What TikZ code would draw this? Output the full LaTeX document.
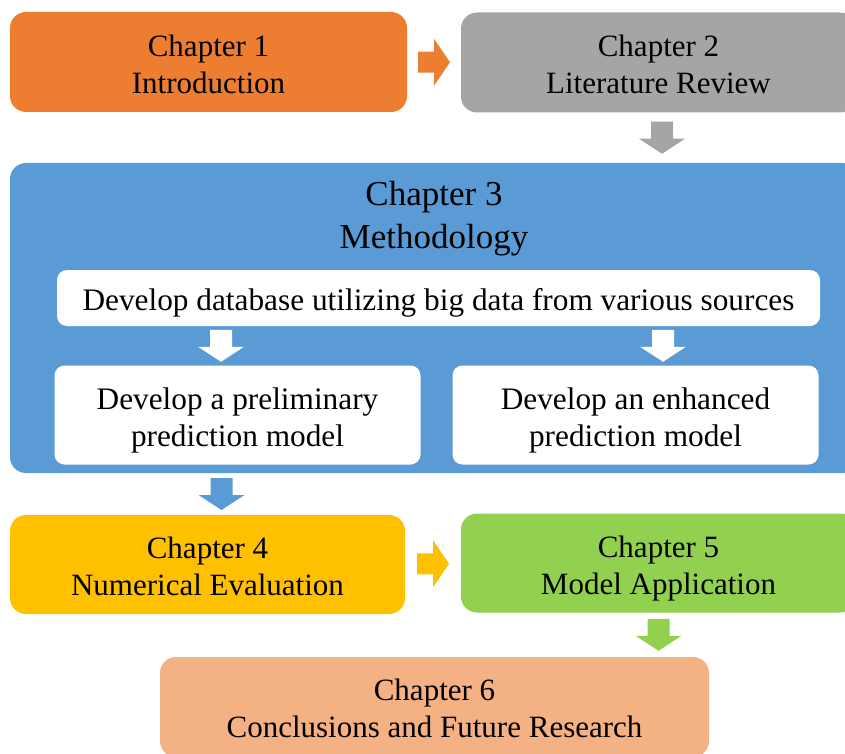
\documentclass[tikz,border=0pt]{standalone}
\usepackage{fontspec}
\setmainfont{Liberation Serif}
\usetikzlibrary{calc}
\definecolor{corange}{HTML}{ED7D31}
\definecolor{cgrey}{HTML}{A5A5A5}
\definecolor{cblue}{HTML}{5B9BD5}
\definecolor{cyellow}{HTML}{FFC000}
\definecolor{cgreen}{HTML}{92D050}
\definecolor{cpeach}{HTML}{F4B183}
\tikzset{
  chapbox/.style={draw=none, rounded corners=16pt, inner sep=0pt},
  subbox/.style={fill=white, draw=none, rounded corners=10pt, inner sep=0pt},
  chaptext/.style={inner sep=0pt, align=center, text=black, yshift=-5.3pt,
    font=\fontsize{31}{37}\selectfont},
  subtext/.style={inner sep=0pt, align=center, text=black, yshift=-5.3pt,
    font=\fontsize{31.3}{37}\selectfont},
  downarr/.pic={\fill[pic actions] (-11,-16) -- (11,-16) -- (11,1) -- (23,1) -- (0,16) -- (-23,1) -- (-11,1) -- cycle;},
  rightarr/.pic={\fill[pic actions] (-16,-10.5) -- (0,-10.5) -- (0,-23.5) -- (16,0) -- (0,23.5) -- (0,10.5) -- (-16,10.5) -- cycle;}
}
\begin{document}
\begin{tikzpicture}[x=1pt,y=-1pt]
\useasboundingbox (0,0) rectangle (845,754);
\clip (0,0) rectangle (845,754);
% boxes
\node[chapbox, fill=corange, minimum width=397pt, minimum height=100pt] (ch1) at (208.5,62) {};
\node[chaptext] (ch1t) at (ch1.center) {\strut Chapter 1\\\strut Introduction};
\node[chapbox, fill=cgrey, minimum width=395pt, minimum height=100pt] (ch2) at (658.5,62.5) {};
\node[chaptext] (ch2t) at (ch2.center) {\strut Chapter 2\\\strut Literature Review};
\node[chapbox, fill=cblue, minimum width=848pt, minimum height=310pt] (ch3) at (434,318) {};
\node[inner sep=0pt, align=center, font=\fontsize{35}{43}\selectfont] (ch3t) at (434,218.6) {\strut Chapter 3\\\strut Methodology};
\node[subbox, minimum width=763pt, minimum height=56pt] (db) at (438.5,298) {};
\node[subtext, yshift=0.5pt] (dbt) at (db.center) {\strut Develop database utilizing big data from various sources};
\node[subbox, minimum width=366pt, minimum height=99pt] (pre) at (237.5,415) {};
\node[subtext] (pret) at (pre.center) {\strut Develop a preliminary\\\strut prediction model};
\node[subbox, minimum width=366pt, minimum height=99pt] (enh) at (635.5,415) {};
\node[subtext] (enht) at (enh.center) {\strut Develop an enhanced\\\strut prediction model};
\node[chapbox, fill=cyellow, minimum width=395pt, minimum height=99pt] (ch4) at (207.5,564.5) {};
\node[chaptext] (ch4t) at (ch4.center) {\strut Chapter 4\\\strut Numerical Evaluation};
\node[chapbox, fill=cgreen, minimum width=395pt, minimum height=99pt] (ch5) at (658.5,563) {};
\node[chaptext] (ch5t) at (ch5.center) {\strut Chapter 5\\\strut Model Application};
\node[chapbox, fill=cpeach, minimum width=549pt, minimum height=100pt] (ch6) at (434.5,707) {};
\node[chaptext, yshift=1pt] (ch6t) at (ch6.center) {\strut Chapter 6\\\strut Conclusions and Future Research};
% block arrows
\pic[fill=corange] at ($(ch1.east)!0.5!(ch2.west)$) {rightarr};
\pic[fill=cgrey] at ($(ch2.south)!0.5!(ch2.south |- ch3.north)+(3.5,0)$) {downarr};
\pic[fill=white] at ($(pre.north)!0.5!(pre.north |- db.south)+(-16.5,0)$) {downarr};
\pic[fill=white] at ($(enh.north)!0.5!(enh.north |- db.south)+(27.5,0)$) {downarr};
\pic[fill=cblue] at ($(ch4.north)!0.5!(ch4.north |- ch3.south)+(14,0)$) {downarr};
\pic[fill=cyellow] at ($(ch4.east)!0.5!(ch5.west)$) {rightarr};
\pic[fill=cgreen] at ($(ch5.south)!0.5!(ch5.south |- ch6.north)$) {downarr};
\end{tikzpicture}
\end{document}
